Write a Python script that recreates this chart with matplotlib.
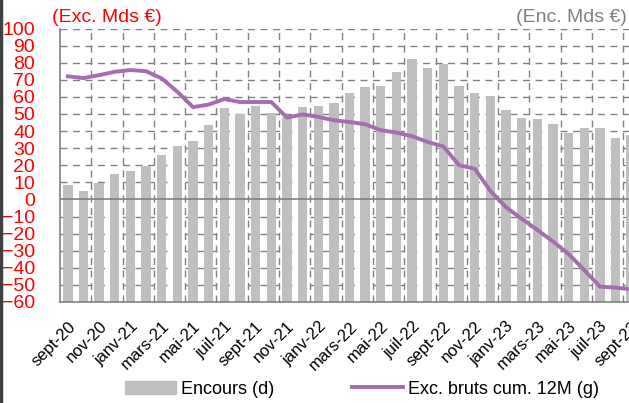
import matplotlib
matplotlib.use('Agg')
import matplotlib.pyplot as plt
import numpy as np
from matplotlib.lines import Line2D

plt.rcParams['font.family'] = ['Liberation Sans Narrow', 'Liberation Sans', 'DejaVu Sans']

months = ['sept-20', 'oct-20', 'nov-20', 'déc-20', 'janv-21', 'févr-21', 'mars-21', 'avr-21',
          'mai-21', 'juin-21', 'juil-21', 'août-21', 'sept-21', 'oct-21', 'nov-21', 'déc-21',
          'janv-22', 'févr-22', 'mars-22', 'avr-22', 'mai-22', 'juin-22', 'juil-22', 'août-22',
          'sept-22', 'oct-22', 'nov-22', 'déc-22', 'janv-23', 'févr-23', 'mars-23', 'avr-23',
          'mai-23', 'juin-23', 'juil-23', 'août-23', 'sept-23']

# encours (right axis, Mds €)
encours = [68.6, 64.9, 69.6, 74.7, 76.8, 79.5, 86.2, 91.1, 94.2, 103.4, 113.2, 109.9,
           114.5, 110.6, 108.0, 114.1, 114.9, 116.7, 122.0, 125.9, 126.5, 134.7, 142.1,
           136.7, 139.2, 126.3, 122.0, 120.4, 112.6, 107.7, 106.9, 104.4, 99.1, 101.8,
           101.6, 96.0, 97.5]

# exc. bruts cumulés 12 mois (left axis, Mds €)
exc_cum = [72, 71, 72.7, 74.7, 75.7, 75, 70.8, 63, 54, 55.5, 58.7, 57, 57, 57, 47.9,
           49.7, 48.3, 46.3, 45.3, 44, 40.5, 39.1, 37, 33.6, 31, 20, 18, 5, -4.5, -11.3,
           -17.8, -24.6, -31.9, -41.3, -51, -51.6, -52.6]

x = np.arange(len(months))

fig = plt.figure(figsize=(6.29, 4.03), dpi=100)
ax1 = fig.add_axes([60 / 629, 1 - 302 / 403, 579 / 629, (302 - 28.5) / 403])
ax2 = ax1.twinx()

ax2.bar(x, encours, width=0.6, color='#BFBFBF', zorder=2)
ax2.set_ylim(0, 160)
ax2.set_yticks([])

ax1.set_zorder(ax2.get_zorder() + 1)
ax1.patch.set_visible(False)
ax1.plot(x, exc_cum, color='#A56DB0', lw=2.8, zorder=5)
ax1.set_ylim(-60, 100)
ax1.set_xlim(-0.5, len(months) - 0.5)
ax1.set_yticks(range(-60, 101, 10))
ax1.tick_params(axis='y', colors='#FF0000', labelsize=14, length=0, pad=18)
ax1.set_xticks(x[::2])
ax1.set_xticklabels(months[::2], rotation=45, ha='right', rotation_mode='anchor', fontsize=12)
ax1.tick_params(axis='x', length=0, pad=12)

# grid
for yv in range(-60, 101, 10):
    if yv in (0, -60):
        continue
    ax2.axhline(yv + 60, color='#808080', lw=1, ls=(0, (5, 4)), zorder=1)
for xv in np.arange(1.5, len(months), 2):
    ax2.axvline(xv, color='#808080', lw=1, ls=(0, (5, 4)), zorder=1)
ax1.axhline(0, color='#808080', lw=1.2, zorder=3)

for s in ['top', 'right']:
    ax1.spines[s].set_visible(False)
    ax2.spines[s].set_visible(False)
for s in ['left', 'bottom']:
    ax1.spines[s].set_color('#808080')
    ax1.spines[s].set_linewidth(1.2)
ax2.spines['left'].set_visible(False)
ax2.spines['bottom'].set_visible(False)

fig.text(52 / 629, 1 - 18 / 403, '(Exc. Mds €)', color='#FF0000', fontsize=14, va='center', ha='left')
fig.text(627 / 629, 1 - 17 / 403, '(Enc. Mds €)', color='#808080', fontsize=14, va='center', ha='right')

handles = [plt.Rectangle((0, 0), 1, 1, color='#BFBFBF'),
           Line2D([], [], color='#A56DB0', lw=2.8)]
fig.legend(handles, ['Encours (d)', 'Exc. bruts cum. 12M (g)'], loc='center',
           bbox_to_anchor=(362 / 629, 1 - 389 / 403), ncol=2, frameon=False,
           fontsize=13, handlelength=2.8, handletextpad=0.3, columnspacing=4.3)

fig.add_artist(Line2D([0.002, 0.002], [0, 1], color='#404040', lw=2.5, transform=fig.transFigure))

fig.savefig('out.png', dpi=100)
